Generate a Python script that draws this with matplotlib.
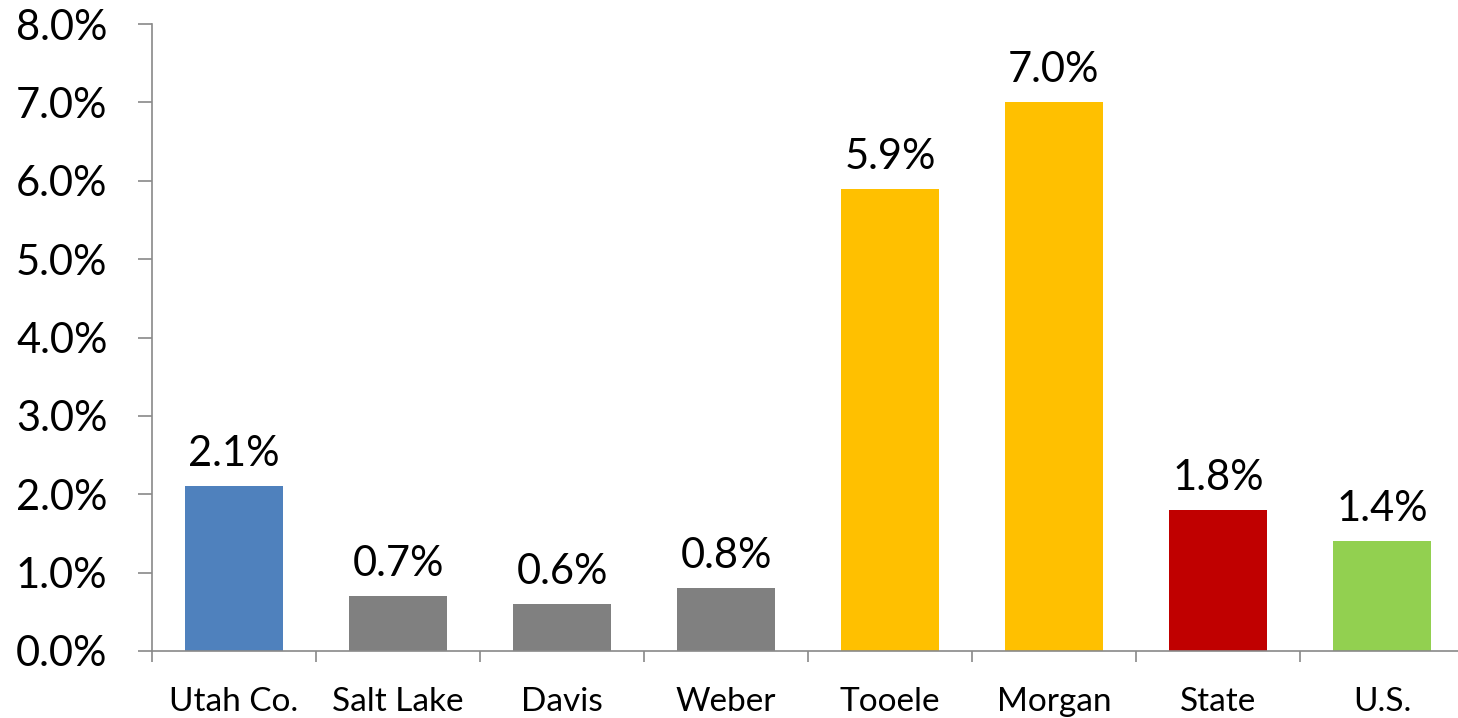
import matplotlib
matplotlib.use("Agg")
import matplotlib.pyplot as plt
from matplotlib.ticker import FixedLocator, PercentFormatter

categories = ["Utah Co.", "Salt Lake", "Davis", "Weber", "Tooele", "Morgan", "State", "U.S."]
values = [2.1, 0.7, 0.6, 0.8, 5.9, 7.0, 1.8, 1.4]
colors = ["#4F81BD", "#808080", "#808080", "#808080", "#FFC000", "#FFC000", "#C00000", "#92D050"]
yticks = [0, 1, 2, 3, 4, 5, 6, 7, 8]

plt.rcParams['font.family'] = ['Lato', 'DejaVu Sans']

fig = plt.figure(figsize=(14.58, 7.18), dpi=100)
ax = fig.add_axes([152/1458, 67/718, (1464-152)/1458, (651-24)/718])

x = list(range(len(categories)))
ax.bar(x, values, width=0.6, color=colors)
for xi, v in zip(x, values):
    ax.text(xi, v + 0.255, f"{v:.1f}%", ha="center", va="baseline", fontsize=30)

ax.set_xlim(-0.5, len(categories) - 0.5)
ax.set_ylim(0, 8)
ax.set_yticks(yticks)
ax.yaxis.set_major_formatter(PercentFormatter(decimals=1))
ax.set_xticks(x)
ax.set_xticklabels(categories, fontsize=24)
ax.xaxis.set_minor_locator(FixedLocator([i - 0.5 for i in range(len(categories) + 1)]))
ax.tick_params(axis='x', which='major', length=0, pad=26)
ax.tick_params(axis='x', which='minor', length=8, color='#898989', width=1.2)
ax.tick_params(axis='y', labelsize=30, length=10, color='#898989', width=1.2, pad=22)

for s in ['top', 'right']:
    ax.spines[s].set_visible(False)
for s in ['left', 'bottom']:
    ax.spines[s].set_color('#898989')
    ax.spines[s].set_linewidth(1.2)

fig.savefig("out.png", dpi=100)
